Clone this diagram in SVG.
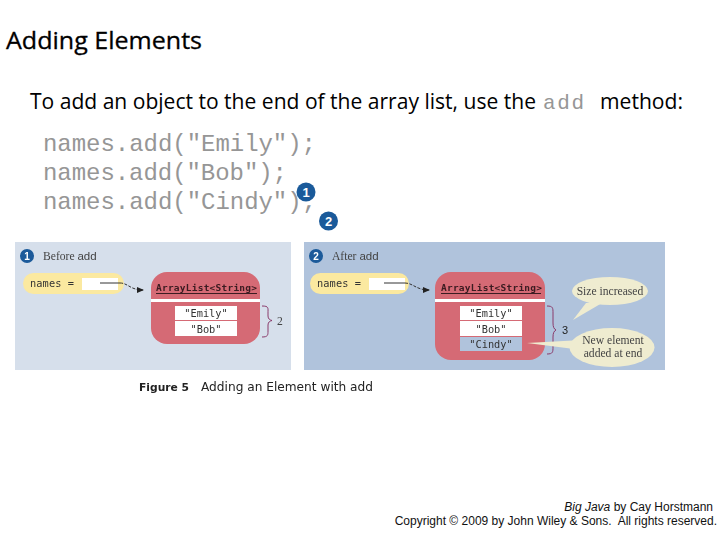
<svg xmlns="http://www.w3.org/2000/svg" width="720" height="540" viewBox="0 0 720 540">
<style>
text{font-family:"Open Sans","Liberation Sans",sans-serif;fill:#000}
.code{font-family:"Liberation Mono",monospace;font-size:24px;fill:#969696}
.m{font-family:"DejaVu Sans Mono","Liberation Mono",monospace;font-size:10.3px;fill:#333}
.mb{font-family:"DejaVu Sans Mono","Liberation Mono",monospace;font-size:9.5px;font-weight:700;fill:#3a1a20}
.s{font-family:"Liberation Serif",serif;font-size:11.6px;fill:#444}
.foot{font-family:"Liberation Sans",sans-serif;font-size:12px;fill:#111}
.badge{fill:#1a5a9a}
.bn{font-family:"Liberation Sans",sans-serif;font-weight:700;fill:#fff;text-anchor:middle}
.yellow{fill:#fbe9a0}.red{fill:#d56a74}.white{fill:#fff}
.brace{fill:none;stroke:#8a3a6a;stroke-width:1}
.conn{fill:none;stroke:#333;stroke-width:1}
.bubble{fill:#efecd0}
</style>
<defs>
<marker id="ah" markerWidth="7" markerHeight="6" refX="6" refY="3" orient="auto"><path d="M0,0L7,3L0,6z" fill="#222"/></marker>
<filter id="soft" x="0" y="0" width="1" height="1"><feGaussianBlur stdDeviation="0.35"/></filter>
</defs>
<text x="6" y="49" font-size="24" textLength="196" lengthAdjust="spacingAndGlyphs" stroke="#000" stroke-width="0.3">Adding Elements</text>
<text x="30" y="109" font-size="21" textLength="506" lengthAdjust="spacingAndGlyphs">To add an object to the end of the array list, use the</text>
<text x="543" y="109" style="font-family:'Liberation Mono',monospace;font-size:21px;fill:#969696" textLength="41">add</text>
<text x="600" y="109" font-size="21" textLength="83" lengthAdjust="spacingAndGlyphs">method:</text>
<text class="code" x="43" y="151" textLength="273">names.add("Emily");</text>
<text class="code" x="43" y="180" textLength="244">names.add("Bob");</text>
<text class="code" x="43" y="209" textLength="273">names.add("Cindy");</text>
<g id="callout1"><circle class="badge" cx="306" cy="192" r="9.5"/><text class="bn" x="306" y="197" font-size="13">1</text></g>
<g id="callout2"><circle class="badge" cx="328.500" cy="221" r="9.5"/><text class="bn" x="328.500" y="226" font-size="13">2</text></g>

<g filter="url(#soft)">
<rect x="15" y="242" width="276" height="128" fill="#d6dfeb"/>
<rect x="304" y="242" width="361" height="128" fill="#b0c3dc"/>

<g id="before-title"><circle class="badge" cx="27" cy="256" r="7"/><text class="bn" x="27" y="260" font-size="10">1</text><text class="s" x="43" y="260">Before <tspan style="font-family:'Liberation Sans',sans-serif;font-size:11.5px">add</tspan></text></g>
<g id="before-names"><rect class="yellow" x="23" y="273" width="101" height="21" rx="10.5"/><rect class="white" x="82" y="278" width="36" height="12"/><text class="m" x="30" y="287" textLength="44">names =</text></g>
<g id="before-list">
<rect class="red" x="151" y="272" width="109" height="72" rx="16"/>
<rect class="white" x="151" y="299" width="109" height="3"/>
<text class="mb" x="156" y="291" textLength="101">ArrayList&lt;String&gt;</text>
<line x1="156" y1="293.500" x2="257" y2="293.500" stroke="#3a1a20"/>
<rect class="white" x="175" y="306" width="62" height="14"/>
<rect class="white" x="175" y="321" width="62" height="15"/>
<text class="m" x="206" y="317" text-anchor="middle">"Emily"</text>
<text class="m" x="206" y="333" text-anchor="middle">"Bob"</text>
</g>
<g id="before-size"><path class="brace" d="M262,306C269,306 268,308 268,313V316C268,319 270,320 272,320.500C270,321 268,322 268,325V331C268,335 268,337 262,337"/><text class="s" x="277" y="325">2</text></g>

<g id="after-title"><circle class="badge" cx="316" cy="256" r="7"/><text class="bn" x="316" y="260" font-size="10">2</text><text class="s" x="332" y="260">After <tspan style="font-family:'Liberation Sans',sans-serif;font-size:11.5px">add</tspan></text></g>
<g id="after-names"><rect class="yellow" x="310" y="273" width="99" height="21" rx="10.500"/><rect class="white" x="369" y="278" width="36" height="12"/><text class="m" x="317" y="287" textLength="44">names =</text></g>
<g id="after-list">
<rect class="red" x="435" y="272" width="110" height="88" rx="16"/>
<rect class="white" x="435" y="299" width="110" height="3"/>
<text class="mb" x="441" y="291" textLength="101">ArrayList&lt;String&gt;</text>
<line x1="441" y1="293.500" x2="541" y2="293.500" stroke="#3a1a20"/>
<rect class="white" x="460" y="306" width="62" height="14"/>
<rect class="white" x="460" y="321" width="62" height="15"/>
<rect fill="#b0c3dc" x="460" y="337" width="62" height="14"/>
<text class="m" x="491" y="317" text-anchor="middle">"Emily"</text>
<text class="m" x="491" y="333" text-anchor="middle">"Bob"</text>
<text class="m" x="491" y="348" text-anchor="middle">"Cindy"</text>
</g>
<g id="after-size"><path class="brace" d="M547,306C553,306 553,308 553,313V323C553,327 554,329 556,330C554,331 553,333 553,337V347C553,352 553,354 547,354"/><text x="562" y="334" style="font-family:'Liberation Sans',sans-serif;font-size:11px;fill:#222">3</text></g>
<g id="bubble-size"><path class="bubble" d="M573,320L586,303L602,303z"/><ellipse class="bubble" cx="610" cy="291" rx="38" ry="14"/><text class="s" x="610" y="295" text-anchor="middle">Size increased</text></g>
<g id="bubble-new"><path class="bubble" d="M527,343L582,340L582,350z"/><ellipse class="bubble" cx="612" cy="347.500" rx="42.500" ry="19.500"/><text class="s" x="613" y="344" text-anchor="middle">New element</text><text class="s" x="613" y="357" text-anchor="middle">added at end</text></g>

<g id="connectors">
<path class="conn" d="M100,283H120"/>
<path class="conn" d="M120,283C128,283 130,290 143,290" stroke-dasharray="3 1.500" marker-end="url(#ah)"/>
<path class="conn" d="M384,283H405"/>
<path class="conn" d="M405,283C413,283 416,290 429,290" stroke-dasharray="3 1.500" marker-end="url(#ah)"/>
</g>

<text x="139" y="391" style="font-family:'DejaVu Sans',sans-serif;font-size:10.5px;font-weight:700;fill:#222" textLength="50" lengthAdjust="spacingAndGlyphs">Figure 5</text>
<text x="201" y="391" style="font-family:'DejaVu Sans',sans-serif;font-size:12px;fill:#222" textLength="172" lengthAdjust="spacingAndGlyphs">Adding an Element with add</text>
</g>
<text class="foot" x="713" y="511" text-anchor="end"><tspan font-style="italic">Big Java</tspan> by Cay Horstmann</text>
<text class="foot" x="717" y="525" text-anchor="end" xml:space="preserve">Copyright © 2009 by John Wiley &amp; Sons.  All rights reserved.</text>
</svg>
